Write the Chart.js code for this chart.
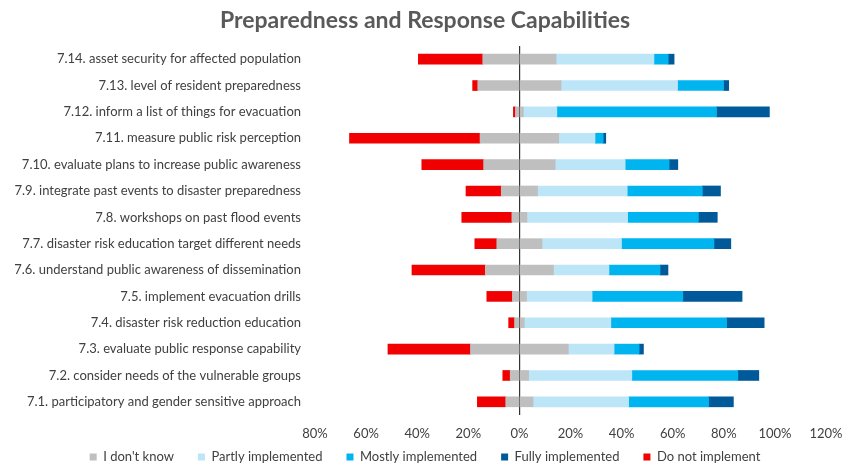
<!DOCTYPE html>
<html>
<head>
<meta charset="utf-8">
<script src="https://cdn.jsdelivr.net/npm/chart.js@4"></script>
<style>
  html, body { margin: 0; padding: 0; background: #fff; }
  #wrap { width: 842px; height: 465px; position: relative; }
</style>
</head>
<body>
<div id="wrap"><canvas id="chart"></canvas></div>
<script>
// categories, top to bottom
const categories = [
    '7.14. asset security for affected population',
    '7.13. level of resident preparedness',
    '7.12. inform a list of things for evacuation',
    '7.11. measure public risk perception',
    '7.10. evaluate plans to increase public awareness',
    '7.9. integrate past events to disaster preparedness',
    '7.8. workshops on past flood events',
    '7.7. disaster risk education target different needs',
    '7.6. understand public awareness of dissemination',
    '7.5. implement evacuation drills',
    '7.4. disaster risk reduction education',
    '7.3. evaluate public response capability',
    '7.2. consider needs of the vulnerable groups',
    '7.1. participatory and gender sensitive approach'
];

// shares in %
const notImplement = [25.2, 2.0, 0.8, 51.1, 24.2, 13.8, 19.6, 8.6, 28.7, 10.0, 2.3, 32.3, 2.9, 11.1];
const dontKnow     = [28.7, 32.6, 3.1, 30.8, 28.0, 14.2, 5.9, 17.7, 26.7, 5.5, 3.8, 38.3, 7.2, 10.7];
const partly       = [38.3, 45.6, 13.1, 14.2, 27.4, 35.1, 39.4, 31.1, 21.7, 25.7, 33.9, 17.9, 40.4, 37.4];
const mostly       = [5.6, 18.0, 62.5, 3.2, 17.2, 29.4, 27.7, 36.2, 20.0, 35.5, 45.3, 9.8, 41.5, 31.3];
const fully        = [2.3, 2.0, 20.7, 1.0, 3.4, 7.1, 7.4, 6.6, 3.1, 23.2, 14.7, 1.7, 8.2, 9.7];

const xTicks = [-80, -60, -40, -20, 0, 20, 40, 60, 80, 100, 120];

const FONT = 'Lato, "Open Sans", sans-serif';
const TXT = '#404040';

// "I don't know" is split around zero, "Do not implement" goes left of it
const datasets = [
    { label: "I don't know", data: dontKnow.map(v => -v / 2), backgroundColor: '#bfbfbf' },
    { label: 'Do not implement', data: notImplement.map(v => -v), backgroundColor: '#f00000' },
    { label: "I don't know", data: dontKnow.map(v => v / 2), backgroundColor: '#bfbfbf', hideLegend: true },
    { label: 'Partly implemented', data: partly, backgroundColor: '#bde5f8' },
    { label: 'Mostly implemented', data: mostly, backgroundColor: '#00b4ef' },
    { label: 'Fully implemented', data: fully, backgroundColor: '#005a9a' }
].map(d => Object.assign(d, { stack: 's', barThickness: 10, borderWidth: 0 }));

const legendOrder = [0, 3, 4, 5, 1];

new Chart(document.getElementById('chart'), {
    type: 'bar',
    data: { labels: categories, datasets: datasets },
    options: {
        indexAxis: 'y',
        responsive: true,
        maintainAspectRatio: false,
        animation: false,
        // legend box carries 10px of empty space below its row, push it down
        layout: { padding: { left: 8, right: 0, top: 0, bottom: -8.5 } },
        plugins: {
            title: {
                display: true,
                text: 'Preparedness and Response Capabilities',
                color: '#595959',
                font: { family: FONT, size: 23, weight: 'bold' },
                padding: { top: 7, bottom: 11.4 }
            },
            legend: {
                position: 'bottom',
                labels: {
                    color: TXT,
                    font: { family: FONT, size: 13 },
                    boxWidth: 7,
                    boxHeight: 7,
                    padding: 24,
                    filter: (item, data) => !data.datasets[item.datasetIndex].hideLegend,
                    sort: (a, b) => legendOrder.indexOf(a.datasetIndex) - legendOrder.indexOf(b.datasetIndex)
                }
            },
            tooltip: { enabled: false }
        },
        scales: {
            x: {
                type: 'linear',
                stacked: true,
                min: -80,
                max: 120,
                afterBuildTicks: scale => { scale.ticks = xTicks.map(v => ({ value: v })); },
                afterFit: scale => {
                    scale.height = 11.5;
                    scale.paddingLeft = 0;
                    scale.paddingRight = 16;
                },
                ticks: {
                    color: TXT,
                    font: { family: FONT, size: 13 },
                    // mirror keeps the labels from being clipped to the thin axis box
                    mirror: true,
                    padding: -27,
                    maxRotation: 0,
                    callback: v => Math.abs(v) + '%'
                },
                grid: {
                    drawTicks: false,
                    color: ctx => ctx.tick && ctx.tick.value === 0 ? '#333333' : 'rgba(0,0,0,0)',
                    lineWidth: 1.2
                },
                border: { display: false }
            },
            y: {
                stacked: true,
                grid: { display: false, drawTicks: false },
                border: { display: false },
                ticks: {
                    color: TXT,
                    font: { family: FONT, size: 13 },
                    padding: 14
                },
                afterFit: scale => { scale.width = 307; }
            }
        }
    }
});
</script>
</body>
</html>
